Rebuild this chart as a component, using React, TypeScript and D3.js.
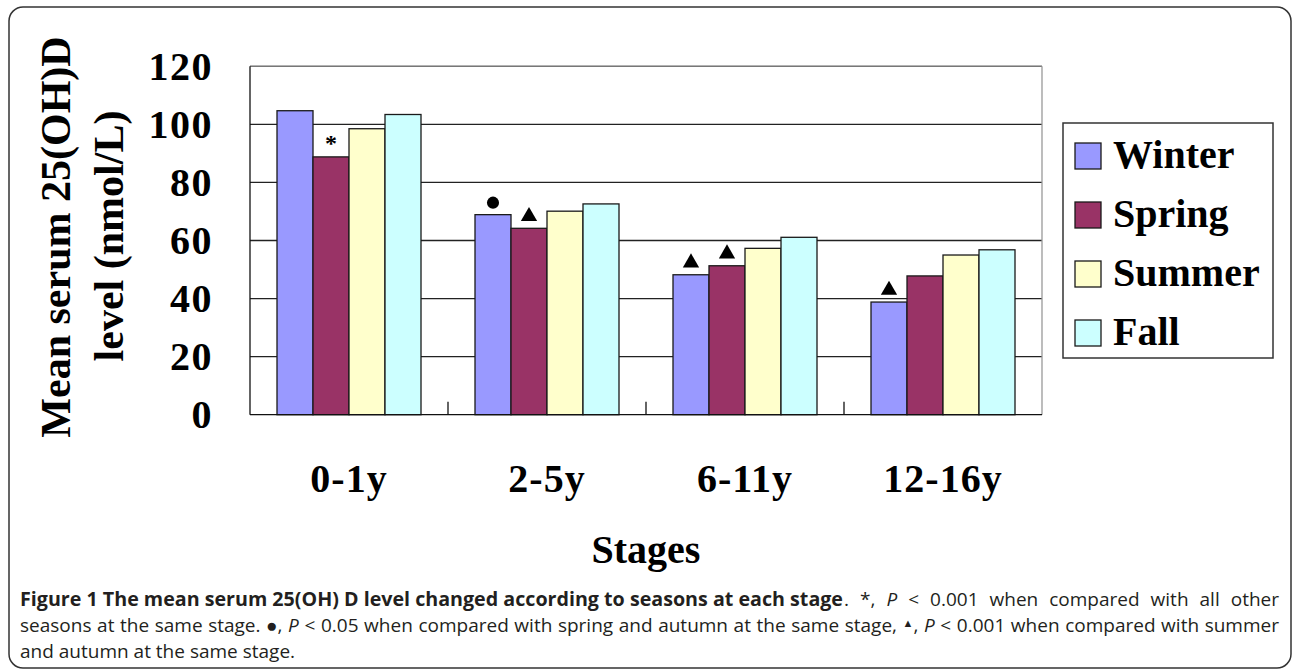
import React, { useLayoutEffect, useRef } from "react";
import { scaleBand, scaleLinear, symbol, symbolCircle, symbolTriangle } from "d3";

const stages = ["0-1y", "2-5y", "6-11y", "12-16y"];
const seasons = ["Winter", "Spring", "Summer", "Fall"];
const winter = [104.7, 68.9, 48.2, 38.8];
const spring = [88.8, 64.2, 51.3, 47.8];
const summer = [98.5, 70.1, 57.3, 55.0];
const fall = [103.4, 72.6, 61.1, 56.8];
const seasonColors = ["#9999FF", "#993366", "#FFFFCC", "#CCFFFF"];
const yTicks = [0, 20, 40, 60, 80, 100, 120];

// significance marks placed above a bar
const marks = [
  { stage: "0-1y", season: "Spring", kind: "star" },
  { stage: "2-5y", season: "Winter", kind: "dot" },
  { stage: "2-5y", season: "Spring", kind: "tri" },
  { stage: "6-11y", season: "Winter", kind: "tri" },
  { stage: "6-11y", season: "Spring", kind: "tri" },
  { stage: "12-16y", season: "Winter", kind: "tri" },
];

const seriesValues = [winter, spring, summer, fall];

// caption line justified by widening the word gaps
function Justified({ x, y, width, children }: { x: number; y: number; width: number; children: React.ReactNode }) {
  const ref = useRef<SVGTextElement>(null);
  useLayoutEffect(() => {
    const el = ref.current;
    if (!el) return;
    el.style.wordSpacing = "0px";
    const natural = el.getComputedTextLength();
    const spaces = (el.textContent ?? "").split(" ").length - 1;
    if (spaces > 0) el.style.wordSpacing = `${(width - natural) / spaces}px`;
  }, [width]);
  return (
    <text ref={ref} x={x} y={y}>
      {children}
    </text>
  );
}

export default function App() {
  const W = 1292;
  const H = 672;
  const plot = { left: 250, right: 1042, top: 66.3, bottom: 414.7 };
  const serif = "'Liberation Serif', 'Times New Roman', serif";
  const sans = "'Open Sans', 'Noto Sans', sans-serif";

  const x = scaleBand<string>().domain(stages).range([plot.left, plot.right]);
  const inner = scaleBand<string>()
    .domain(seasons)
    .range([0, x.bandwidth()])
    .paddingInner(0)
    .paddingOuter(0.75);
  const y = scaleLinear().domain([0, 120]).range([plot.bottom, plot.top]);

  const valueOf = (stage: string, season: string) =>
    seriesValues[seasons.indexOf(season)][stages.indexOf(stage)];

  const tri = symbol().type(symbolTriangle).size(115)() ?? "";
  const dot = symbol().type(symbolCircle).size(115)() ?? "";

  const boundaries = stages.slice(1).map((s) => x(s) ?? 0);

  return (
    <div style={{ position: "absolute", left: 0, top: 0, width: W, height: H, background: "#fff" }}>
      <svg width={W} height={H} viewBox={`0 0 ${W} ${H}`} style={{ display: "block" }}>
        <rect x={9} y={7} width={1282} height={661} rx={14} fill="#fff" stroke="#333" strokeWidth={1.5} />

        {/* grid */}
        <g>
          {yTicks.slice(1).map((t) => (
            <line key={t} x1={plot.left} x2={plot.right} y1={y(t)} y2={y(t)} stroke="#222" strokeWidth={1.3} />
          ))}
        </g>

        {/* bars */}
        <g>
          {stages.map((stage) =>
            seasons.map((season, si) => {
              const v = valueOf(stage, season);
              const bx = (x(stage) ?? 0) + (inner(season) ?? 0);
              return (
                <rect
                  key={`${stage}-${season}`}
                  x={bx}
                  y={y(v)}
                  width={inner.bandwidth()}
                  height={y(0) - y(v)}
                  fill={seasonColors[si]}
                  stroke="#1a1a1a"
                  strokeWidth={1.3}
                />
              );
            }),
          )}
        </g>

        {/* plot frame and axes */}
        <line x1={plot.left} x2={plot.right} y1={plot.top} y2={plot.top} stroke="#777" strokeWidth={1.3} />
        <line x1={plot.right} x2={plot.right} y1={plot.top} y2={plot.bottom} stroke="#999" strokeWidth={1.3} />
        <line x1={plot.left} x2={plot.left} y1={plot.top} y2={plot.bottom} stroke="#111" strokeWidth={1.3} />
        <line x1={plot.left} x2={plot.right} y1={plot.bottom} y2={plot.bottom} stroke="#111" strokeWidth={1.3} />
        {boundaries.map((bx) => (
          <line key={bx} x1={bx} x2={bx} y1={plot.bottom} y2={plot.bottom - 13} stroke="#111" strokeWidth={1.3} />
        ))}

        {/* significance marks */}
        {marks.map((m, i) => {
          const cx = (x(m.stage) ?? 0) + (inner(m.season) ?? 0) + inner.bandwidth() / 2;
          const top = y(valueOf(m.stage, m.season));
          if (m.kind === "star") {
            return (
              <text key={i} x={cx} y={top - 6} textAnchor="middle" fontFamily={serif} fontWeight="bold" fontSize={24} fill="#000">
                *
              </text>
            );
          }
          const d = m.kind === "tri" ? tri : dot;
          return <path key={i} d={d} transform={`translate(${cx},${top - 12})`} fill="#000" />;
        })}

        {/* y ticks */}
        {yTicks.map((t) => (
          <text
            key={t}
            x={213}
            y={y(t)}
            dy="0.34em"
            textAnchor="end"
            fontFamily={serif}
            fontWeight="bold"
            fontSize={40}
            letterSpacing={1.5}
            fill="#000"
          >
            {t}
          </text>
        ))}

        {/* x labels */}
        {stages.map((s) => (
          <text
            key={s}
            x={(x(s) ?? 0) + x.bandwidth() / 2}
            y={492}
            textAnchor="middle"
            fontFamily={serif}
            fontWeight="bold"
            fontSize={40}
            letterSpacing={1}
            fill="#000"
          >
            {s}
          </text>
        ))}

        <text x={(plot.left + plot.right) / 2} y={563} textAnchor="middle" fontFamily={serif} fontWeight="bold" fontSize={40} fill="#000">
          Stages
        </text>

        {/* y title */}
        <g fontFamily={serif} fontWeight="bold" fontSize={42} fill="#000" textAnchor="middle">
          <text transform="translate(70,237) rotate(-90)">Mean serum 25(OH)D</text>
          <text transform="translate(123,236) rotate(-90)">level (nmol/L)</text>
        </g>

        {/* legend */}
        <rect x={1063} y={123} width={210} height={235} fill="#fff" stroke="#333" strokeWidth={1.5} />
        {seasons.map((s, i) => (
          <g key={s}>
            <rect x={1075} y={143 + i * 59} width={26} height={26} fill={seasonColors[i]} stroke="#1a1a1a" strokeWidth={1.3} />
            <text x={1113} y={168 + i * 59} fontFamily={serif} fontWeight="bold" fontSize={40} fill="#000">
              {s}
            </text>
          </g>
        ))}

        {/* caption */}
        <g fontFamily={sans} fontSize={19} fill="#231F20">
          <text x={20} y={606} textLength={823} lengthAdjust="spacingAndGlyphs" fontWeight="bold">
            Figure 1 The mean serum 25(OH) D level changed according to seasons at each stage
          </text>
          <Justified x={844} y={606} width={435}>
            <tspan>. *, </tspan>
            <tspan fontStyle="italic">P</tspan>
            <tspan> &lt; 0.001 when compared with all other</tspan>
          </Justified>
          <Justified x={20} y={632} width={1259}>
            <tspan>seasons at the same stage. ●, </tspan>
            <tspan fontStyle="italic">P</tspan>
            <tspan> &lt; 0.05 when compared with spring and autumn at the same stage, </tspan>
            <tspan fontSize={11} dy={-5}>▲</tspan>
            <tspan dy={5}>, </tspan>
            <tspan fontStyle="italic">P</tspan>
            <tspan> &lt; 0.001 when compared with summer</tspan>
          </Justified>
          <text x={20} y={658}>and autumn at the same stage.</text>
        </g>
      </svg>
    </div>
  );
}
